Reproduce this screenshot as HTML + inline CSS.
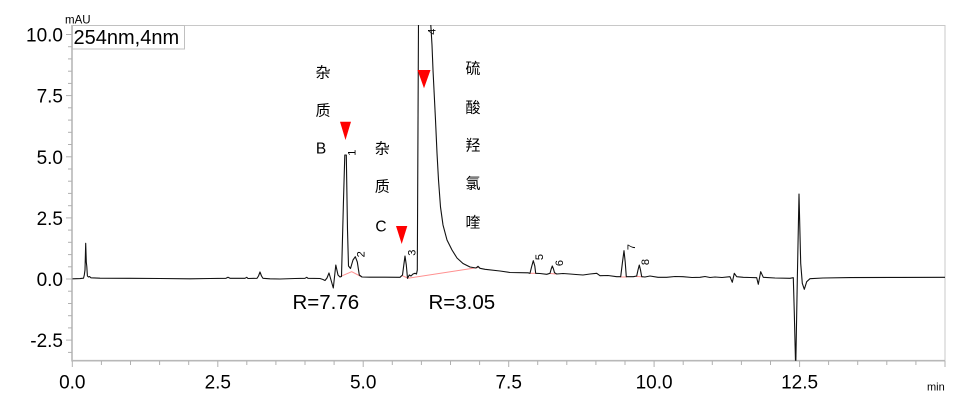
<!DOCTYPE html>
<html><head><meta charset="utf-8"><style>
html,body{margin:0;padding:0;background:#fff;}
svg{display:block;}
text{font-family:"Liberation Sans","Noto Sans CJK SC",sans-serif;fill:#000;}
.cjk{font-family:"Noto Sans CJK SC","WenQuanYi Zen Hei",sans-serif;font-size:15px;}
</style></head><body>
<svg width="966" height="405" viewBox="0 0 966 405" xmlns="http://www.w3.org/2000/svg">
<defs><clipPath id="c"><rect x="72" y="25" width="873" height="335.7"/></clipPath></defs>
<!-- frame -->
<line x1="72" y1="25.5" x2="945" y2="25.5" stroke="#c8c8c8" stroke-width="1"/>
<line x1="945" y1="25" x2="945" y2="361" stroke="#c8c8c8" stroke-width="1"/>
<line x1="72" y1="25" x2="72" y2="361.5" stroke="#b8b8b8" stroke-width="1.6"/>
<line x1="71.5" y1="360.7" x2="945" y2="360.7" stroke="#b8b8b8" stroke-width="1.6"/>
<!-- y ticks -->
<g stroke="#b0b0b0" stroke-width="1">
<line x1="66" y1="34.5" x2="72" y2="34.5"/><line x1="68" y1="46.7" x2="72" y2="46.7"/><line x1="68" y1="58.9" x2="72" y2="58.9"/><line x1="68" y1="71.2" x2="72" y2="71.2"/><line x1="68" y1="83.4" x2="72" y2="83.4"/>
<line x1="66" y1="95.6" x2="72" y2="95.6"/><line x1="68" y1="107.8" x2="72" y2="107.8"/><line x1="68" y1="120.1" x2="72" y2="120.1"/><line x1="68" y1="132.3" x2="72" y2="132.3"/><line x1="68" y1="144.5" x2="72" y2="144.5"/>
<line x1="66" y1="156.8" x2="72" y2="156.8"/><line x1="68" y1="169" x2="72" y2="169"/><line x1="68" y1="181.2" x2="72" y2="181.2"/><line x1="68" y1="193.4" x2="72" y2="193.4"/><line x1="68" y1="205.7" x2="72" y2="205.7"/>
<line x1="66" y1="217.9" x2="72" y2="217.9"/><line x1="68" y1="230.1" x2="72" y2="230.1"/><line x1="68" y1="242.3" x2="72" y2="242.3"/><line x1="68" y1="254.6" x2="72" y2="254.6"/><line x1="68" y1="266.8" x2="72" y2="266.8"/>
<line x1="66" y1="279" x2="72" y2="279"/><line x1="68" y1="291.2" x2="72" y2="291.2"/><line x1="68" y1="303.5" x2="72" y2="303.5"/><line x1="68" y1="315.7" x2="72" y2="315.7"/><line x1="68" y1="327.9" x2="72" y2="327.9"/>
<line x1="66" y1="340.1" x2="72" y2="340.1"/><line x1="68" y1="352.4" x2="72" y2="352.4"/>
</g>
<!-- x ticks -->
<g stroke="#b0b0b0" stroke-width="1">
<line x1="72.3" y1="361" x2="72.3" y2="367"/><line x1="101.4" y1="361" x2="101.4" y2="365"/><line x1="130.5" y1="361" x2="130.5" y2="365"/><line x1="159.6" y1="361" x2="159.6" y2="365"/><line x1="188.7" y1="361" x2="188.7" y2="365"/>
<line x1="217.8" y1="361" x2="217.8" y2="367"/><line x1="246.8" y1="361" x2="246.8" y2="365"/><line x1="275.9" y1="361" x2="275.9" y2="365"/><line x1="305" y1="361" x2="305" y2="365"/><line x1="334.1" y1="361" x2="334.1" y2="365"/>
<line x1="363.2" y1="361" x2="363.2" y2="367"/><line x1="392.3" y1="361" x2="392.3" y2="365"/><line x1="421.4" y1="361" x2="421.4" y2="365"/><line x1="450.5" y1="361" x2="450.5" y2="365"/><line x1="479.6" y1="361" x2="479.6" y2="365"/>
<line x1="508.7" y1="361" x2="508.7" y2="367"/><line x1="537.7" y1="361" x2="537.7" y2="365"/><line x1="566.8" y1="361" x2="566.8" y2="365"/><line x1="595.9" y1="361" x2="595.9" y2="365"/><line x1="625" y1="361" x2="625" y2="365"/>
<line x1="654.1" y1="361" x2="654.1" y2="367"/><line x1="683.2" y1="361" x2="683.2" y2="365"/><line x1="712.3" y1="361" x2="712.3" y2="365"/><line x1="741.4" y1="361" x2="741.4" y2="365"/><line x1="770.5" y1="361" x2="770.5" y2="365"/>
<line x1="799.6" y1="361" x2="799.6" y2="367"/><line x1="828.6" y1="361" x2="828.6" y2="365"/><line x1="857.7" y1="361" x2="857.7" y2="365"/><line x1="886.8" y1="361" x2="886.8" y2="365"/><line x1="915.9" y1="361" x2="915.9" y2="365"/>
<line x1="945" y1="361" x2="945" y2="367"/>
</g>
<!-- y labels -->
<g font-size="19" text-anchor="end">
<text x="63" y="41.5">10.0</text>
<text x="63" y="102.6">7.5</text>
<text x="63" y="163.8">5.0</text>
<text x="63" y="224.9">2.5</text>
<text x="63" y="286">0.0</text>
<text x="63" y="347.1">-2.5</text>
</g>
<text x="65" y="23.5" font-size="11.5">mAU</text>
<!-- x labels -->
<g font-size="19" text-anchor="middle">
<text x="72.3" y="388.5">0.0</text>
<text x="217.8" y="388.5">2.5</text>
<text x="363.2" y="388.5">5.0</text>
<text x="508.7" y="388.5">7.5</text>
<text x="654.1" y="388.5">10.0</text>
<text x="799.6" y="388.5">12.5</text>
</g>
<text x="927" y="390.5" font-size="11">min</text>
<!-- legend box -->
<rect x="72.5" y="25.5" width="112" height="23.5" fill="#fff" stroke="#c0c0c0" stroke-width="1"/>
<text x="73.5" y="44" font-size="20">254nm,4nm</text>
<!-- red baselines -->
<g stroke="#ff9090" stroke-width="1" fill="none">
<polyline points="340,276.7 351.7,271.7 361,276.5"/>
<polyline points="402,275.5 408,278.2 478,267.5"/>
<line x1="530" y1="273.3" x2="536" y2="273.3"/>
<line x1="550" y1="273.5" x2="556" y2="274"/>
<line x1="620" y1="277" x2="627" y2="277"/>
<line x1="636" y1="276.5" x2="643" y2="276.7"/>
</g>
<!-- trace -->
<path clip-path="url(#c)" fill="none" stroke="#111" stroke-width="1.1" stroke-linejoin="round" d="M72.5,278.8 L80,278.6 L83.5,278.2 L84.3,275 L85,270 L85.7,243.3 L86.3,262 L86.8,266.5 L87.4,276 L88.5,277 L89.5,276.5 L91,277.8 L100,278.2 L130,278.3 L160,278.5 L190,278.8 L210,278.5 L226,278.3 L228,277.3 L230,278.3 L245,278.3 L246.7,277.3 L248,278.5 L257,278.3 L258.5,276 L260,272 L261.5,276 L263,278.3 L270,278.8 L280,279 L295,278.5 L305,278.3 L306.7,277.3 L308,278.3 L320,278.5 L323,279.5 L325,280.5 L327,278 L329,273 L331,280 L333.3,288 L335.8,265 L338,275 L340,277 L341.5,276.5 L343.5,200 L344.8,155 L346.3,155 L347.5,230 L348.5,266 L350.5,268.5 L353,260 L355.3,256.7 L357.3,262 L359.3,275 L362,277 L370,277.2 L385,277.2 L400,277.3 L402.5,275 L403.8,265 L405,256 L406.3,265 L407.5,278.3 L409.3,275 L411,276 L413,274 L415,273.3 L416.5,274 L417.3,270 L418.5,20 L430.5,20 L432,45 L433,70 L434.5,100 L435.5,120 L437,153 L438.5,180 L440.5,207 L443,225 L447,240 L452,250 L457,258 L463,263.5 L470,267 L476,268 L478,266.3 L480,268.3 L485,269.3 L500,271 L510,272.5 L528,272.8 L530,273.3 L531.8,266 L533.3,260.7 L534.8,266 L535.7,273.3 L540,273.5 L546.7,274.3 L550,273.3 L551.2,269 L552.3,266 L553.5,269 L554.5,272.7 L556.7,274 L563,273.5 L570,274 L576,274.5 L583,275 L590,274 L596.7,273.3 L600,275.7 L608,275.5 L616.7,276.7 L620.7,276.7 L622.5,262 L624,250.7 L625.2,262 L626.3,276.7 L633.3,276.7 L636.7,276 L638,270 L639.3,265 L640.5,270 L641.7,276.7 L645,277 L650,276 L658,277.3 L666.7,277.3 L675,276.5 L683,276.7 L692,277.5 L700,277.3 L705,276.5 L710,277.5 L715,277 L722,277.5 L730,276.7 L732.3,282.3 L734.3,273.3 L736.7,276.7 L743.3,277.3 L750,277.5 L756.7,277.7 L758.3,284.3 L760.7,271.7 L763.3,277.3 L775,278 L790,278.3 L793.3,277.7 L794.3,313 L795.7,370 L797.3,280 L799,194 L800.7,263.3 L802.3,283.3 L804.3,289.3 L806.7,281.7 L810,278.7 L823,278 L850,277.6 L900,277.4 L945,277.3"/>
<!-- peak numbers -->
<g font-size="11" text-anchor="middle">
<text transform="translate(351.7,152.7) rotate(-90)" dy="0.35em">1</text>
<text transform="translate(360.7,254.3) rotate(-90)" dy="0.35em">2</text>
<text transform="translate(411.7,252.7) rotate(-90)" dy="0.35em">3</text>
<text transform="translate(431.7,31.7) rotate(-90)" dy="0.35em">4</text>
<text transform="translate(539,257) rotate(-90)" dy="0.35em">5</text>
<text transform="translate(559,263) rotate(-90)" dy="0.35em">6</text>
<text transform="translate(631,247) rotate(-90)" dy="0.35em">7</text>
<text transform="translate(645,262) rotate(-90)" dy="0.35em">8</text>
</g>
<!-- red markers -->
<g fill="#ff0000">
<polygon points="340,121.7 351,121.7 345.5,140"/>
<polygon points="396,226 407.3,226 401.7,244"/>
<polygon points="417.5,70 430.5,70 424,88.3"/>
</g>
<!-- annotations -->
<g text-anchor="middle">
<text class="cjk" x="323" y="77.7">杂</text>
<text class="cjk" x="323" y="115.7">质</text>
<text x="321" y="153.3" font-size="15.5">B</text>
<text class="cjk" x="382.3" y="153.4">杂</text>
<text class="cjk" x="382.3" y="191.4">质</text>
<text x="381" y="231.5" font-size="15.5">C</text>
<text class="cjk" x="473" y="73.7">硫</text>
<text class="cjk" x="473" y="112.7">酸</text>
<text class="cjk" x="473" y="150.7">羟</text>
<text class="cjk" x="473" y="188.7">氯</text>
<text class="cjk" x="473" y="227.7">喹</text>
</g>
<text x="292.5" y="309" font-size="20.5">R=7.76</text>
<text x="428.5" y="309" font-size="20.5">R=3.05</text>
</svg>
</body></html>
